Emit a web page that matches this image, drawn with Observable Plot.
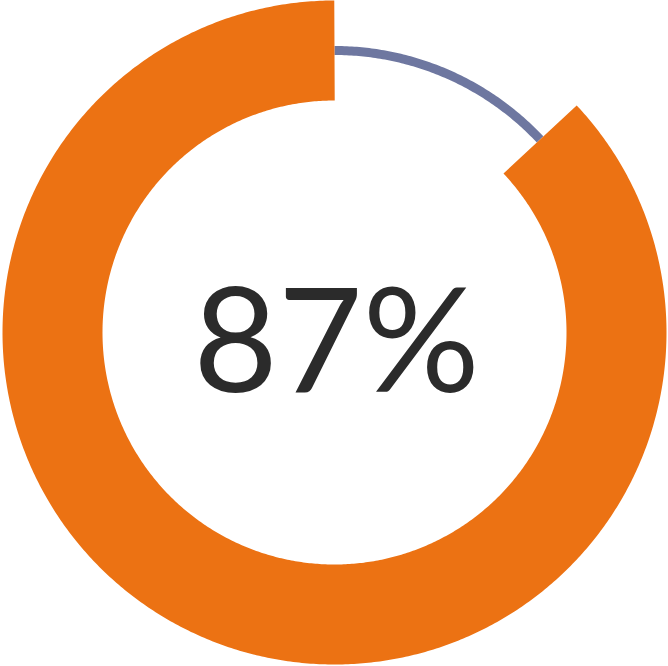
<!DOCTYPE html>
<html>
<head>
<meta charset="utf-8">
<script src="https://cdn.jsdelivr.net/npm/d3@7"></script>
<script src="https://cdn.jsdelivr.net/npm/@observablehq/plot@0.6"></script>
<style>
  html, body { margin: 0; padding: 0; background: #ffffff; }
  #chart svg { display: block; }
</style>
</head>
<body>
<div id="chart"></div>
<script>
// Data
const categories = ["Complete", "Remaining"];
const values = [87, 13];
const centerLabel = "87%";

const total = d3.sum(values);
const ringRadius = 282; // ring mid radius in scale units

// Build arc samples from the data (angle clockwise from top)
function arcPoints(name, startFrac, endFrac) {
  const n = Math.max(2, Math.ceil((endFrac - startFrac) * 720));
  const pts = [];
  for (let i = 0; i <= n; i++) {
    const a = 2 * Math.PI * (startFrac + (endFrac - startFrac) * i / n);
    pts.push({name, x: ringRadius * Math.sin(a), y: ringRadius * Math.cos(a)});
  }
  return pts;
}

// Remaining goes from top (0) clockwise to 13%, complete from 13% to 100%
const remainingFrac = values[1] / total;
const remainingArc = arcPoints(categories[1], 0, remainingFrac);
const completeArc = arcPoints(categories[0], remainingFrac, 1);

const chart = Plot.plot({
  width: 668,
  height: 666,
  margin: 0,
  x: {domain: [-334, 334], axis: null},
  y: {domain: [-334, 332], axis: null},
  marks: [
    Plot.line(remainingArc, {x: "x", y: "y", stroke: "#6e77a0", strokeWidth: 9, strokeLinecap: "butt", curve: "linear"}),
    Plot.line(completeArc, {x: "x", y: "y", stroke: "#ec7213", strokeWidth: 100, strokeLinecap: "butt", strokeLinejoin: "round", curve: "linear"}),
    Plot.text([centerLabel], {x: () => 2, y: () => -13, text: d => d, fontSize: 146, fill: "#2b2b2b", fontFamily: "Lato", fontWeight: 400, textAnchor: "middle", lineAnchor: "middle", style: "letter-spacing:-3px"})
  ]
});
document.getElementById("chart").appendChild(chart);
</script>
</body>
</html>
